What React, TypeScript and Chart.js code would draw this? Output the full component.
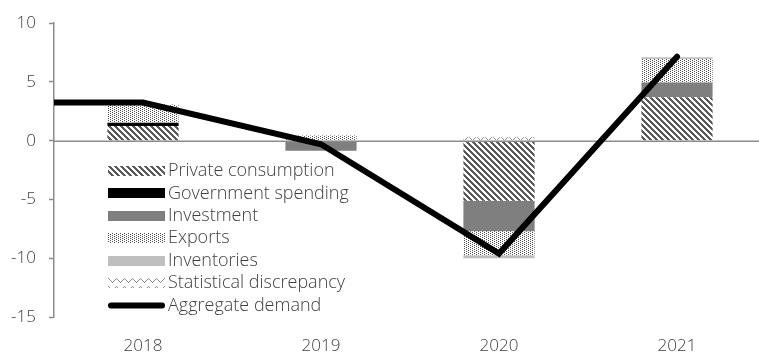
import React, { useEffect, useRef } from 'react';
import { Chart, registerables } from 'chart.js';

Chart.register(...registerables);

// Contributions to growth, percentage points. The leading 2017 entry only
// carries the aggregate-demand line in from the left edge of the plot.
const years = ['2017', '2018', '2019', '2020', '2021'];
const privateConsumption = [null, 1.25, 0, -5.1, 3.7];
const governmentSpending = [null, 0.25, 0, 0, 0];
const investment = [null, 0.05, -0.85, -2.6, 1.25];
const exportsContribution = [null, 1.5, 0.45, -2.05, 2.0];
const inventories = [null, 0, 0, -0.25, 0.15];
const statisticalDiscrepancy = [null, 0.25, 0.15, 0.3, 0];
const aggregateDemand = [3.25, 3.25, -0.3, -9.6, 7.15];

const yTicks = [10, 5, 0, -5, -10, -15];

const FONT_FAMILY = '"Open Sans", "DejaVu Sans", sans-serif';
const TEXT_COLOR = '#404040';
const AXIS_COLOR = '#8c8c8c';

type Tile = (x: number, y: number) => boolean;

function makePattern(w: number, h: number, ink: string, on: Tile): CanvasPattern {
  const c = document.createElement('canvas');
  c.width = w;
  c.height = h;
  const g = c.getContext('2d')!;
  g.fillStyle = '#ffffff';
  g.fillRect(0, 0, w, h);
  g.fillStyle = ink;
  for (let y = 0; y < h; y++) {
    for (let x = 0; x < w; x++) {
      if (on(x, y)) g.fillRect(x, y, 1, 1);
    }
  }
  return g.createPattern(c, 'repeat')!;
}

// Legend drawn inside the plot, swatch + label per series.
const insideLegend = {
  id: 'insideLegend',
  afterDraw(chart: any) {
    const { ctx } = chart;
    const left = 108;
    const swatchW = 57;
    const top = 171;
    const step = 22.4;
    ctx.save();
    ctx.font = `300 18px ${FONT_FAMILY}`;
    ctx.textBaseline = 'middle';
    ctx.textAlign = 'left';
    chart.data.datasets.forEach((ds: any, i: number) => {
      const cy = top + i * step;
      if (ds.type === 'line') {
        ctx.strokeStyle = ds.borderColor;
        ctx.lineWidth = 6;
        ctx.lineCap = 'round';
        ctx.beginPath();
        ctx.moveTo(left + 3, cy);
        ctx.lineTo(left + swatchW - 3, cy);
        ctx.stroke();
      } else {
        const fill = ds.backgroundColor;
        const y0 = Math.round(cy - 5);
        if (fill && typeof fill !== 'string' && fill.setTransform) {
          fill.setTransform(new DOMMatrix().translate(0, y0));
        }
        ctx.fillStyle = fill;
        ctx.fillRect(left, y0, swatchW, 10);
        if (fill && typeof fill !== 'string' && fill.setTransform) {
          fill.setTransform(new DOMMatrix());
        }
      }
      ctx.fillStyle = TEXT_COLOR;
      ctx.fillText(ds.label, left + swatchW + 3, cy);
    });
    ctx.restore();
  },
};

// Horizontal zero line, drawn over the bars but under the aggregate line.
const zeroLine = {
  id: 'zeroLine',
  beforeDatasetDraw(chart: any, args: any) {
    if (args.meta.type !== 'line') return;
    const { ctx, chartArea, scales } = chart;
    const y = Math.round(scales.y.getPixelForValue(0)) + 0.25;
    ctx.save();
    ctx.strokeStyle = AXIS_COLOR;
    ctx.lineWidth = 1.5;
    ctx.beginPath();
    ctx.moveTo(chartArea.left, y);
    ctx.lineTo(chartArea.right, y);
    ctx.stroke();
    ctx.restore();
  },
};

export default function App() {
  const canvasRef = useRef<HTMLCanvasElement | null>(null);

  useEffect(() => {
    const canvas = canvasRef.current;
    if (!canvas) return;

    const hatch = makePattern(6, 6, '#5a5a5a', (x, y) => (((x - y) % 6) + 6) % 6 < 3);
    const dots = makePattern(4, 2, '#505050', (x, y) => (y === 0 && x === 0) || (y === 1 && x === 2));
    const zigzag = makePattern(8, 8, '#8c8c8c', (x, y) => y === Math.abs(x - 4));

    const bar = (label: string, data: (number | null)[], fill: any) => ({
      type: 'bar' as const,
      label,
      data,
      backgroundColor: fill,
      borderWidth: 0,
      stack: 'components',
      order: 1,
      barPercentage: 1,
      categoryPercentage: 0.4,
    });

    const chart = new Chart(canvas, {
      data: {
        labels: years,
        datasets: [
          bar('Private consumption', privateConsumption, hatch),
          bar('Government spending', governmentSpending, '#000000'),
          bar('Investment', investment, '#7f7f7f'),
          bar('Exports', exportsContribution, dots),
          bar('Inventories', inventories, '#bfbfbf'),
          bar('Statistical discrepancy', statisticalDiscrepancy, zigzag),
          {
            type: 'line' as const,
            label: 'Aggregate demand',
            data: aggregateDemand,
            borderColor: '#000000',
            borderWidth: 6,
            borderCapStyle: 'round',
            borderJoinStyle: 'miter',
            pointRadius: 0,
            tension: 0,
            stack: 'total',
            order: 0,
            clip: { left: 0, top: 10, right: 10, bottom: 10 },
          } as any,
        ],
      },
      options: {
        animation: false,
        responsive: false,
        maintainAspectRatio: false,
        layout: { padding: { top: 22, left: 0, right: 0, bottom: 0 } },
        plugins: {
          legend: { display: false },
          tooltip: { enabled: false },
        },
        scales: {
          x: {
            stacked: true,
            min: '2018',
            max: '2021',
            offset: true,
            border: { display: false },
            grid: { display: false, drawTicks: false },
            ticks: {
              padding: 19,
              color: TEXT_COLOR,
              font: { family: FONT_FAMILY, size: 17, weight: '300' as any },
            },
            afterFit: (s: any) => {
              s.height = 37;
            },
          },
          y: {
            stacked: true,
            min: -15,
            max: 10,
            afterBuildTicks: (s: any) => {
              s.ticks = yTicks.map((v) => ({ value: v }));
            },
            border: { display: true, color: AXIS_COLOR, width: 1.5 },
            grid: {
              drawOnChartArea: false,
              drawTicks: true,
              tickLength: 5,
              tickColor: AXIS_COLOR,
              tickWidth: 1.5,
            },
            ticks: {
              padding: 13,
              color: TEXT_COLOR,
              font: { family: FONT_FAMILY, size: 17, weight: '300' as any },
            },
            afterFit: (s: any) => {
              s.width = 54;
            },
          },
        },
      },
      plugins: [zeroLine, insideLegend],
    } as any);

    return () => chart.destroy();
  }, []);

  return (
    <div
      style={{
        position: 'fixed',
        left: 0,
        top: 0,
        width: 759,
        height: 354,
        overflow: 'hidden',
        background: '#ffffff',
      }}
    >
      <canvas ref={canvasRef} width={766} height={354} style={{ display: 'block' }} />
    </div>
  );
}
